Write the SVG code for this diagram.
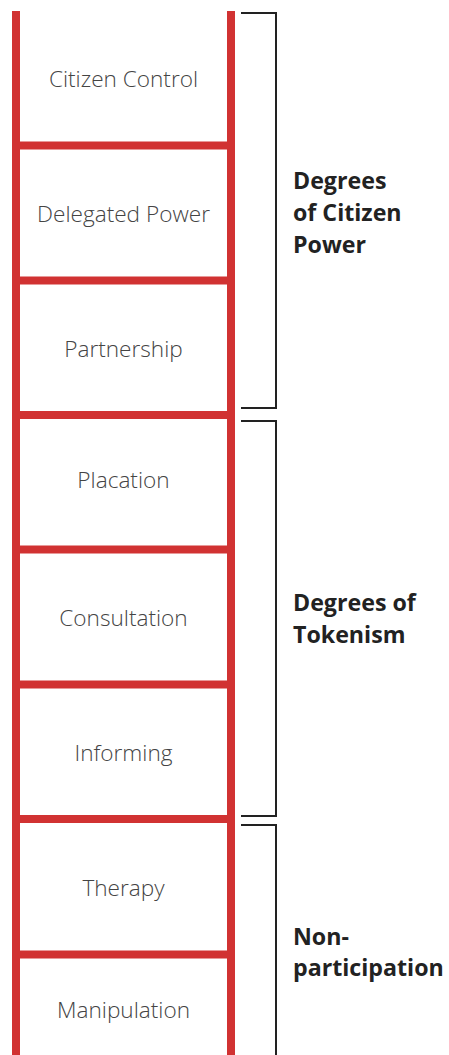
<svg xmlns="http://www.w3.org/2000/svg" width="449" height="1055" viewBox="0 0 449 1055">
  <style>
    .rail { stroke: #d13232; stroke-width: 8; fill: none; }
    .bracket { stroke: #222222; stroke-width: 2; fill: none; }
    .rung-label { font-family: "Open Sans", "Liberation Sans", sans-serif; font-weight: 300; font-size: 22.6px; fill: #444444; text-anchor: middle; }
    .group-label { font-family: "Open Sans", "Liberation Sans", sans-serif; font-weight: 700; font-size: 23.2px; fill: #222222; }
  </style>
  <rect width="449" height="1055" fill="#ffffff"/>

  <!-- ladder rails and rungs -->
  <g id="ladder">
    <line class="rail" x1="16" y1="11" x2="16" y2="1055"/>
    <line class="rail" x1="231" y1="11" x2="231" y2="1055"/>
    <line class="rail" x1="12" y1="145.5" x2="235" y2="145.5"/>
    <line class="rail" x1="12" y1="280.5" x2="235" y2="280.5"/>
    <line class="rail" x1="12" y1="415" x2="235" y2="415"/>
    <line class="rail" x1="12" y1="549.5" x2="235" y2="549.5"/>
    <line class="rail" x1="12" y1="684.5" x2="235" y2="684.5"/>
    <line class="rail" x1="12" y1="819" x2="235" y2="819"/>
    <line class="rail" x1="12" y1="954.5" x2="235" y2="954.5"/>
  </g>

  <!-- rung labels -->
  <g id="citizen-control"><text class="rung-label" x="123.5" y="86.5">Citizen Control</text></g>
  <g id="delegated-power"><text class="rung-label" x="123.5" y="221.5">Delegated Power</text></g>
  <g id="partnership"><text class="rung-label" x="123.5" y="356.5">Partnership</text></g>
  <g id="placation"><text class="rung-label" x="123.5" y="487.5">Placation</text></g>
  <g id="consultation"><text class="rung-label" x="123.5" y="625.5">Consultation</text></g>
  <g id="informing"><text class="rung-label" x="123.5" y="760.5">Informing</text></g>
  <g id="therapy"><text class="rung-label" x="123.5" y="895.5">Therapy</text></g>
  <g id="manipulation"><text class="rung-label" x="123.5" y="1017.5">Manipulation</text></g>

  <!-- grouping brackets -->
  <g id="brackets">
    <path class="bracket" d="M241 13 H276 V408 H241"/>
    <path class="bracket" d="M241 421 H276 V816 H241"/>
    <path class="bracket" d="M241 825 H276 V1055"/>
  </g>

  <!-- group labels -->
  <g id="citizen-power">
    <text class="group-label" x="293" y="189">Degrees</text>
    <text class="group-label" x="293" y="221">of Citizen</text>
    <text class="group-label" x="293" y="253">Power</text>
  </g>
  <g id="tokenism">
    <text class="group-label" x="293" y="611">Degrees of</text>
    <text class="group-label" x="293" y="643">Tokenism</text>
  </g>
  <g id="non-participation">
    <text class="group-label" x="293" y="945">Non-</text>
    <text class="group-label" x="293" y="976">participation</text>
  </g>
</svg>
